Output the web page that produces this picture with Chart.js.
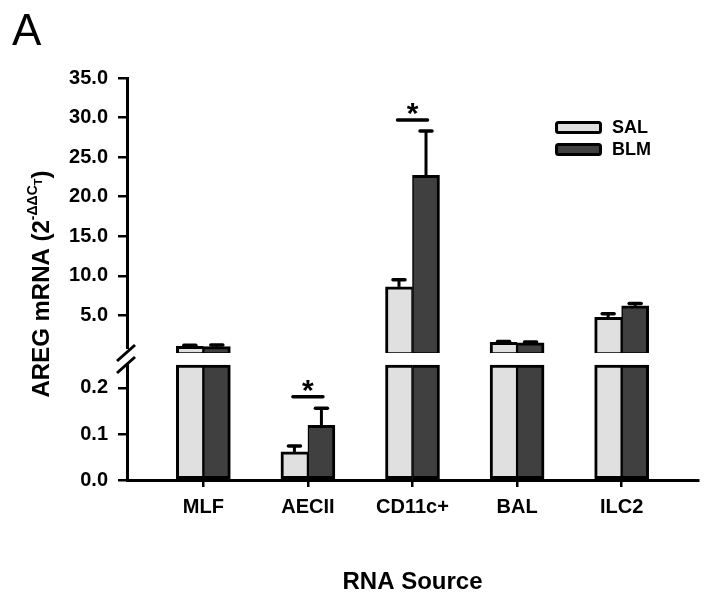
<!DOCTYPE html>
<html>
<head>
<meta charset="utf-8">
<script src="https://cdn.jsdelivr.net/npm/chart.js@4.4.1/dist/chart.umd.min.js"></script>
<style>
  html, body { margin: 0; padding: 0; background: #fff; }
</style>
</head>
<body>
<canvas id="grafico" width="714" height="605"></canvas>
<script>
// DATI ----------------------------------
var categorie = ['MLF', 'AECII', 'CD11c+', 'BAL', 'ILC2'];
var serie = ['SAL', 'BLM'];
var valoriSAL = [1.1, 0.061, 8.6, 1.6, 4.75];
var valoriBLM = [1.05, 0.119, 22.7, 1.55, 6.2];
var erroriSAL = [0.12, 0.013, 0.9, 0.1, 0.45];
var erroriBLM = [0.2, 0.037, 5.6, 0.1, 0.3];
var tickAlti = [5, 10, 15, 20, 25, 30, 35];
var tickBassi = [0, 0.1, 0.2];
var taglio = 0.25;            // punto di rottura dell'asse
var sigCategorie = [1, 2];    // indici con asterisco
var sigLivello = [0.181, 29.7];

var colori = ['#e0e0e0', '#404040'];
var FONT = "'Liberation Sans', Arial, sans-serif";
Chart.defaults.font.family = FONT;
Chart.defaults.color = '#000';

function parteBassa(v) {
  return v.map(function(y, i) { return { x: i, y: Math.min(y, taglio) }; });
}
function parteAlta(v) {
  return v.map(function(y, i) { return { x: i, y: y > taglio ? y : null }; });
}

var bordoSAL = { top: 3, left: 3, bottom: 3, right: 1.5 };
var bordoBLM = { top: 3, left: 1.5, bottom: 3, right: 3 };

// PLUGIN: barre di errore, asterischi, rottura asse, legenda, titoli
var extra = {
  id: 'extra',
  afterDatasetsDraw: function(chart) {
    var ctx = chart.ctx;
    var sA = chart.scales.yAlto, sB = chart.scales.yBasso, sx = chart.scales.x;
    ctx.save();
    ctx.strokeStyle = '#000';
    [[valoriSAL, erroriSAL, 0, 2], [valoriBLM, erroriBLM, 1, 3]].forEach(function(g) {
      g[0].forEach(function(v, i) {
        var alto = v > taglio;
        var el = chart.getDatasetMeta(alto ? g[3] : g[2]).data[i];
        var sc = alto ? sA : sB;
        var yTop = sc.getPixelForValue(v + g[1][i]);
        ctx.lineWidth = 3;
        ctx.beginPath(); ctx.moveTo(el.x, el.y); ctx.lineTo(el.x, yTop); ctx.stroke();
        ctx.lineWidth = 3.5;
        ctx.lineCap = 'round';
        ctx.beginPath(); ctx.moveTo(el.x - 6, yTop); ctx.lineTo(el.x + 6, yTop); ctx.stroke();
        ctx.lineCap = 'butt';
      });
    });
    // asterischi
    sigCategorie.forEach(function(idx, k) {
      var v = sigLivello[k];
      var sc = v > taglio ? sA : sB;
      var y = sc.getPixelForValue(v), x = sx.getPixelForValue(idx);
      ctx.lineWidth = 3.5;
      ctx.lineCap = 'round';
      ctx.beginPath(); ctx.moveTo(x - 15, y); ctx.lineTo(x + 15, y); ctx.stroke();
      ctx.fillStyle = '#000';
      ctx.font = 'bold 30px ' + FONT;
      ctx.textAlign = 'center';
      ctx.textBaseline = 'alphabetic';
      ctx.fillText('*', x, y + 3);
    });
    ctx.restore();
  },
  afterDraw: function(chart) {
    var ctx = chart.ctx;
    var sA = chart.scales.yAlto;
    var x0 = chart.chartArea.left, yb = sA.bottom;
    ctx.save();
    // rottura asse
    ctx.fillStyle = '#fff';
    ctx.fillRect(x0 - 4, yb - 4, 6, 14);
    ctx.strokeStyle = '#000';
    ctx.lineWidth = 3;
    ctx.beginPath(); ctx.moveTo(x0 - 10, yb + 8); ctx.lineTo(x0 + 8, yb - 8); ctx.stroke();
    ctx.beginPath(); ctx.moveTo(x0 - 10, yb + 20); ctx.lineTo(x0 + 8, yb + 4); ctx.stroke();

    // legenda
    var lx = 555, ly = [121, 143];
    serie.forEach(function(s, i) {
      ctx.fillStyle = colori[i];
      ctx.strokeStyle = '#000';
      ctx.lineWidth = 3;
      ctx.beginPath();
      ctx.roundRect(lx + 1.5, ly[i] + 1.5, 44, 10, 2);
      ctx.fill(); ctx.stroke();
      ctx.fillStyle = '#000';
      ctx.font = 'bold 18px ' + FONT;
      ctx.textAlign = 'left';
      ctx.textBaseline = 'middle';
      ctx.fillText(s, lx + 57, ly[i] + 7);
    });

    // lettera pannello
    ctx.font = '44px ' + FONT;
    ctx.textAlign = 'left';
    ctx.textBaseline = 'alphabetic';
    ctx.fillText('A', 12, 45);

    // titolo asse y con apice e pedice
    var parti = [
      { t: 'AREG mRNA (2', f: 'bold 24px ', dy: 8.5 },
      { t: '-\u0394\u0394C', f: 'bold 14px ', dy: -3 },
      { t: 'T', f: 'bold 11px ', dy: 1.5 },
      { t: ')', f: 'bold 24px ', dy: 8.5 }
    ];
    ctx.translate(40, 284);
    ctx.rotate(-Math.PI / 2);
    var tot = 0;
    parti.forEach(function(p) { ctx.font = p.f + FONT; p.w = ctx.measureText(p.t).width; tot += p.w; });
    var cx = -tot / 2;
    parti.forEach(function(p) {
      ctx.font = p.f + FONT;
      ctx.fillText(p.t, cx, p.dy);
      cx += p.w;
    });
    ctx.restore();
  }
};

var ctx = document.getElementById('grafico');
var chart = new Chart(ctx, {
  type: 'bar',
  data: {
    datasets: [
      { label: serie[0], data: parteBassa(valoriSAL), yAxisID: 'yBasso', stack: 'sal',
        backgroundColor: colori[0], borderColor: '#000', borderWidth: bordoSAL, borderSkipped: false },
      { label: serie[1], data: parteBassa(valoriBLM), yAxisID: 'yBasso', stack: 'blm',
        backgroundColor: colori[1], borderColor: '#000', borderWidth: bordoBLM, borderSkipped: false },
      { label: serie[0], data: parteAlta(valoriSAL), yAxisID: 'yAlto', stack: 'sal',
        backgroundColor: colori[0], borderColor: '#000', borderWidth: bordoSAL, borderSkipped: false },
      { label: serie[1], data: parteAlta(valoriBLM), yAxisID: 'yAlto', stack: 'blm',
        backgroundColor: colori[1], borderColor: '#000', borderWidth: bordoBLM, borderSkipped: false }
    ]
  },
  options: {
    responsive: false,
    animation: false,
    barThickness: 27,
    layout: { padding: { top: 78, right: 16, left: 0, bottom: 0 } },
    plugins: { legend: { display: false }, tooltip: { enabled: false } },
    scales: {
      x: {
        type: 'linear',
        offset: false,
        min: -0.73,
        max: categorie.length - 1 + 0.73,
        afterBuildTicks: function(s) { s.ticks = categorie.map(function(c, i) { return { value: i }; }); },
        afterFit: function(s) { s.height = 125; },
        grid: { offset: false, drawOnChartArea: false, color: '#000', lineWidth: 2.5, tickLength: 7 },
        border: { color: '#000', width: 3 },
        ticks: {
          callback: function(v) { return categorie[v]; },
          font: { size: 20, weight: 'bold' }, color: '#000', padding: 8, maxRotation: 0
        },
        title: { display: true, text: 'RNA Source', font: { size: 24, weight: 'bold' }, color: '#000', padding: { top: 0, bottom: 8 } }
      },
      yBasso: {
        type: 'linear', position: 'left', stack: 'y', stackWeight: 127, stacked: false,
        min: 0, max: 0.276,
        afterBuildTicks: function(s) { s.ticks = tickBassi.map(function(v) { return { value: v }; }); },
        afterFit: function(s) { s.width = 127; },
        grid: { drawOnChartArea: false, color: '#000', lineWidth: 2.5, tickLength: 9 },
        border: { color: '#000', width: 3 },
        ticks: { callback: function(v) { return v.toFixed(1); }, font: { size: 20, weight: 'bold' }, color: '#000', padding: 10 }
      },
      yAlto: {
        type: 'linear', position: 'left', stack: 'y', stackWeight: 275, stacked: false,
        min: taglio, max: 35,
        afterBuildTicks: function(s) { s.ticks = tickAlti.map(function(v) { return { value: v }; }); },
        afterFit: function(s) { s.width = 127; },
        grid: { drawOnChartArea: false, color: '#000', lineWidth: 2.5, tickLength: 9 },
        border: { color: '#000', width: 3 },
        ticks: { callback: function(v) { return v.toFixed(1); }, font: { size: 20, weight: 'bold' }, color: '#000', padding: 10 }
      }
    }
  },
  plugins: [extra]
});
</script>
</body>
</html>
